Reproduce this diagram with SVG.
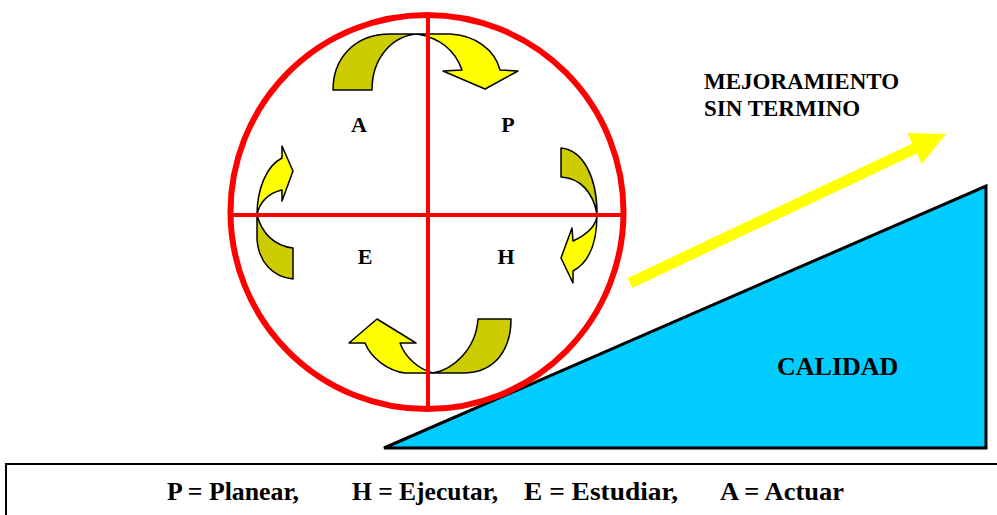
<svg xmlns="http://www.w3.org/2000/svg" width="997" height="515" viewBox="0 0 997 515">
<style>
.t{font-family:"Liberation Serif","Times New Roman",serif;font-weight:bold;fill:#000}
.dk{fill:#CCCC00;stroke:#000;stroke-width:1.5;stroke-linejoin:round}
.yl{fill:#FFFF00;stroke:#000;stroke-width:1.5;stroke-linejoin:round}
.red{stroke:#FF0000;fill:none}
</style>
<rect width="997" height="515" fill="#fff"/>
<g id="calidad">
<polygon points="384,448 986,186 986,448" fill="#00CCFF" stroke="#000" stroke-width="3" stroke-linejoin="miter"/>
<text class="t" x="777" y="375" font-size="26">CALIDAD</text>
</g>
<g id="mejoramiento">
<polygon points="627.7,278 912.2,143.5 907.2,133 946,134 921.8,164 916.8,153.5 632.3,288" fill="#FFFF00"/>
<text class="t" x="704" y="89" font-size="23">MEJORAMIENTO</text>
<text class="t" x="704" y="116" font-size="23">SIN TERMINO</text>
</g>
<g id="arrows">
<g id="arrow-top">
<path class="dk" d="M333,90 C333,58 355,34 390,34 L417,34 C392,36 372,58 372,90 Z"/>
<path class="yl" d="M417,34 L450,34 C475,35 495,50 500,70 L518,71 L485,89 L443,71 L462,70 C455,50 440,38 417,34 Z"/>
</g>
<g id="arrow-right">
<path class="dk" d="M561,148 C582,150 597,175 597,214 C593,192 580,178 561,177 Z"/>
<path class="yl" d="M597,214 C597,240 590,262 573,271 L573,283 L561,258 L572,228 L573,241 C588,234 597,225 597,214 Z"/>
</g>
<g id="arrow-left">
<path class="dk" d="M257,215 L257,238 C258,262 273,277 293,279 L293,248 C275,246 262,234 257,215 Z"/>
<path class="yl" d="M257,215 C257,190 266,166 282,158 L282,146 L293,171 L282,201 L282,190 C268,193 259,203 257,215 Z"/>
</g>
<g id="arrow-bottom">
<path class="dk" d="M511,319 C511,350 495,372 465,373 L433,373 C452,370 476,350 478,319 Z"/>
<path class="yl" d="M433,373 L405,373 C388,371 371,358 365,343 L349,343 L377,319 L416,343 L400,343 C405,357 418,369 433,373 Z"/>
</g>
</g>
<g id="circle">
<line class="red" x1="232" y1="215" x2="622" y2="215" stroke-width="4"/>
<line class="red" x1="428" y1="17" x2="428" y2="407" stroke-width="4"/>
<ellipse class="red" cx="427" cy="212" rx="196.5" ry="197" stroke-width="6"/>
</g>
<g id="labels">
<text class="t" x="359" y="132" font-size="22" text-anchor="middle">A</text>
<text class="t" x="508" y="132" font-size="22" text-anchor="middle">P</text>
<text class="t" x="365" y="264" font-size="22" text-anchor="middle">E</text>
<text class="t" x="506" y="264" font-size="22" text-anchor="middle">H</text>
</g>
<g id="legend">
<rect x="6" y="464" width="1000" height="60" fill="#fff" stroke="#000" stroke-width="2"/>
<text class="t" x="167" y="500" font-size="26" textLength="132" lengthAdjust="spacingAndGlyphs">P = Planear,</text>
<text class="t" x="352" y="500" font-size="26" textLength="146" lengthAdjust="spacingAndGlyphs">H = Ejecutar,</text>
<text class="t" x="524" y="500" font-size="26" textLength="154" lengthAdjust="spacingAndGlyphs">E = Estudiar,</text>
<text class="t" x="720" y="500" font-size="26" textLength="124" lengthAdjust="spacingAndGlyphs">A = Actuar</text>
</g>
</svg>
